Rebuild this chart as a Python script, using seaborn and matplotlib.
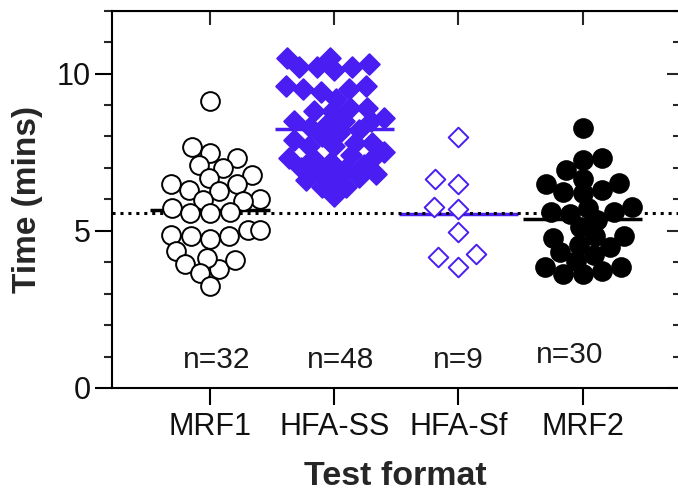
import numpy as np
import pandas as pd
import seaborn as sns
import matplotlib.pyplot as plt
from matplotlib.ticker import MultipleLocator, NullFormatter

# data
categories = ['MRF1', 'HFA-SS', 'HFA-Sf', 'MRF2']
mrf1_times = [9.13, 7.66, 7.47, 7.33, 7.01, 6.76, 7.08, 6.68, 6.48, 6.28, 6.31,
              6.48, 5.99, 6.02, 5.94, 5.73, 5.60, 5.56, 5.56, 5.03, 5.03, 4.88,
              4.74, 4.85, 4.85, 4.35, 3.95, 3.79, 4.14, 4.07, 3.65, 3.25]
hfa_ss_times = [10.5, 10.5, 10.3, 10.2, 10.2, 10.2, 10.1,
                9.6, 9.6, 9.5, 9.5, 9.4,
                9.2, 8.9, 8.9, 8.8, 8.8,
                8.6, 8.5, 8.5, 8.5, 8.4, 8.3, 8.2,
                8.1, 8.0, 7.9, 7.8, 7.8, 7.7, 7.7,
                7.5, 7.4, 7.4, 7.3, 7.3, 7.2, 7.1,
                7.0, 7.0, 6.9, 6.8, 6.7, 6.7, 6.6, 6.4, 6.4, 6.1]
hfa_sf_times = [7.99, 6.48, 6.66, 5.68, 5.76, 4.97, 4.26, 3.85, 4.17]
mrf2_times = [8.28, 7.24, 6.93, 7.30, 6.48, 6.66, 6.52, 6.29, 6.24, 6.19,
              5.76, 5.74, 5.53, 5.60, 5.60, 5.34, 5.13, 4.76, 4.83, 4.83,
              4.54, 4.49, 4.33, 4.05, 4.23, 3.64, 3.73, 3.85, 3.62, 3.84]
n_labels = ['n=32', 'n=48', 'n=9', 'n=30']
ref_line = 5.55

blue = '#4A1EF2'

groups = [mrf1_times, hfa_ss_times, hfa_sf_times, mrf2_times]
df = pd.DataFrame({
    'format': np.repeat(categories, [len(g) for g in groups]),
    'time': np.concatenate(groups),
})

sns.set_style('ticks')
plt.rcParams['font.family'] = ['Liberation Sans', 'DejaVu Sans']

fig = plt.figure(figsize=(6.78, 4.98), dpi=100)
ax = fig.add_axes([0.1652, 0.2209, 0.8368, 0.7576])

# marker looks per group: (marker, face, edge, size, swarm spacing factor)
styles = {
    'MRF1': ('o', 'white', 'black', 13.5, 1.05),
    'HFA-SS': ('D', blue, blue, 10.5, 1.2),
    'HFA-Sf': ('D', 'white', blue, 10.0, 1.8),
    'MRF2': ('o', 'black', 'black', 13.5, 1.05),
}

swarms = []
for cat in categories:
    marker, face, edge, size, spread = styles[cat]
    n_before = len(ax.collections)
    sns.swarmplot(data=df[df['format'] == cat], x='format', y='time',
                  order=categories, ax=ax, marker=marker, color=face,
                  edgecolor=edge, linewidth=1.4, size=size * spread, zorder=3,
                  warn_thresh=1.0)
    for coll in ax.collections[n_before:]:
        swarms.append((coll, spread))

# fix swarm positions, then set markers to their drawn size (Prism-like overlap)
fig.canvas.draw()
for coll, spread in swarms:
    if 'draw' in coll.__dict__:
        del coll.draw
    coll.set_sizes(coll.get_sizes() / spread ** 2)

# mean lines
for i, cat in enumerate(categories):
    col = 'black' if cat.startswith('MRF') else blue
    ax.hlines(np.mean(groups[i]), i - 0.48, i + 0.48, color=col, lw=2.5, zorder=1)

ax.axhline(ref_line, color='black', lw=2.2, ls=(0, (1, 1.6)), zorder=1)

for i, lab in enumerate(n_labels):
    dx = -0.1 if i == 3 else (0.05 if i < 2 else 0.0)
    dy = 1.05 if i == 3 else 0.9
    ax.text(i + dx, dy, lab, ha='center', va='center', fontsize=21.5, color='#1a1a1a')

ax.set_xlim(-0.79, 3.78)
ax.set_ylim(0, 12)
ax.set_yticks([0, 5, 10])
ax.yaxis.set_minor_locator(MultipleLocator(1))
ax.tick_params(axis='both', which='major', length=12, width=1.5, labelsize=22,
               direction='out', color='black', labelcolor='#111111')
ax.tick_params(axis='y', which='minor', length=6, width=1.5, direction='out')
ax.tick_params(axis='y', pad=3)
ax.tick_params(axis='x', pad=5)
for side in ['left', 'bottom', 'top', 'right']:
    ax.spines[side].set_visible(True)
    ax.spines[side].set_linewidth(1.5)
    ax.spines[side].set_color('black')

# mirrored ticks pointing inward on top and right
ry = ax.secondary_yaxis('right')
ry.set_yticks([0, 5, 10])
ry.yaxis.set_minor_locator(MultipleLocator(1))
ry.yaxis.set_major_formatter(NullFormatter())
ry.tick_params(which='major', direction='in', length=9, width=1.5)
ry.tick_params(which='minor', direction='in', length=4, width=1.5)
tx = ax.secondary_xaxis('top')
tx.set_xticks(range(len(categories)))
tx.xaxis.set_major_formatter(NullFormatter())
tx.tick_params(direction='in', length=10, width=1.5)

ax.set_xlabel('Test format', fontsize=24.5, fontweight='bold', labelpad=14)
ax.set_ylabel('Time (mins)', fontsize=24, fontweight='bold', labelpad=10)

fig.savefig('out.png', dpi=100)
